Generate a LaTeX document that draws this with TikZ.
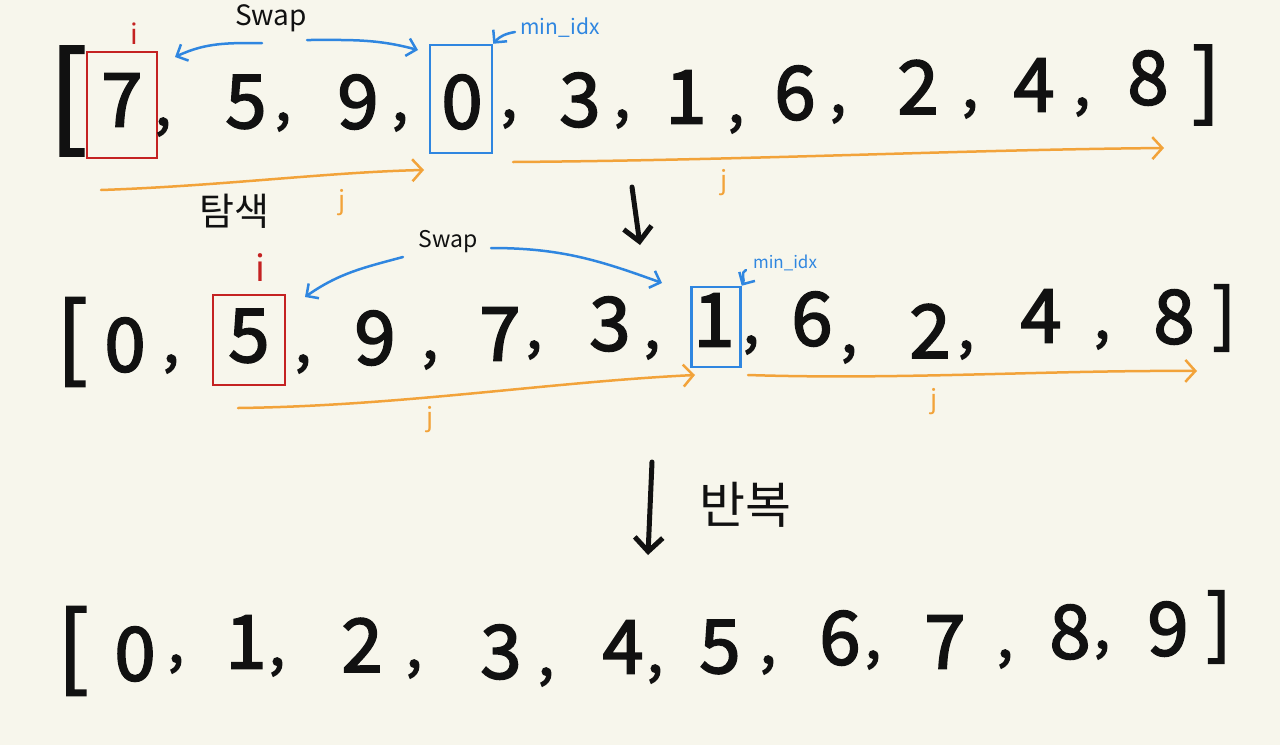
\documentclass[tikz,border=0pt]{standalone}
\usepackage{fontspec}
\newfontfamily\kr{Noto Sans CJK KR}
\newfontfamily\krh{Noto Sans CJK KR}[FakeBold=2.5]
\usetikzlibrary{arrows.meta}
\definecolor{bg}{HTML}{F7F6EC}
\definecolor{ink}{HTML}{111111}
\definecolor{ired}{HTML}{C42222}
\definecolor{iblue}{HTML}{2F86E0}
\definecolor{iorange}{HTML}{F2A33A}
\newcommand\myfs[1]{\fontsize{#1}{#1}\selectfont}
\tikzset{
  dig/.style={inner sep=0pt, text=ink, font=\krh\myfs{74}},
  cma/.style={inner sep=0pt, text=ink, font=\krh\myfs{58}},
  brk/.style={inner sep=0pt, text=ink, font=\krh\myfs{#1}},
  lbl/.style={inner sep=0pt, text=ink, font=\kr\myfs{#1}},
  bluelbl/.style={inner sep=0pt, text=iblue, font=\kr\myfs{#1}},
  redlbl/.style={inner sep=0pt, text=ired, font=\kr\myfs{#1}},
  orglbl/.style={inner sep=0pt, text=iorange, font=\kr\myfs{#1}},
  redbox/.style={draw=ired, line width=2.5pt, inner sep=0pt},
  bluebox/.style={draw=iblue, line width=2.5pt, inner sep=0pt},
  bluearr/.style={draw=iblue, line width=2.5pt, line cap=round, -{Straight Barb[length=9pt,width=18pt,line width=2.5pt]}},
  orgarr/.style={draw=iorange, line width=2.5pt, line cap=round, -{Straight Barb[length=10pt,width=22pt,line width=2.5pt]}},
  downarr/.style={draw=ink, line width=5pt, line cap=round, -{Straight Barb[length=14pt,width=28pt,line width=5pt]}}
}
\begin{document}
\begin{tikzpicture}[x=1pt,y=-1pt]
\fill[bg] (0,0) rectangle (1280,745);
\useasboundingbox (0,0) rectangle (1280,745);

% ---------- Row 1 ----------
\node[redbox, minimum width=70pt, minimum height=106pt] (rb1) at (122,105) {};
\node[bluebox, minimum width=62pt, minimum height=108pt] (bb1) at (461,99) {};
\node[brk=113] (r1L) at (68,101) {[};
\node[brk=83] (r1R) at (1206,85) {]};
\node[dig] (a1) at (122,100) {7};
\node[dig] (a2) at (246,102) {5};
\node[dig] (a3) at (358,102) {9};
\node[dig] (a4) at (462,102) {0};
\node[dig] (a5) at (580,100) {3};
\node[dig] (a6) at (686,97) {1};
\node[dig] (a7) at (795,93) {6};
\node[dig] (a8) at (918,87) {2};
\node[dig] (a9) at (1034,85) {4};
\node[dig] (a10) at (1148,78) {8};
\node[cma] (c1) at (163,127) {,};
\node[cma] (c2) at (283,122) {,};
\node[cma] (c3) at (400,122) {,};
\node[cma] (c4) at (509,119) {,};
\node[cma] (c5) at (622,119) {,};
\node[cma] (c6) at (736,124) {,};
\node[cma] (c7) at (838,114) {,};
\node[cma] (c8) at (970,109) {,};
\node[cma] (c9) at (1082,107) {,};

\node[redlbl=28] (i1) at (134,34) {i};
\node[lbl=28] (sw1) at (271,18) {Swap};
\node[bluelbl=21] (m1) at (560,28) {min\_idx};
\coordinate (sw1a) at (262,43);
\coordinate (sw1b) at (307,40);
\coordinate (sw1at) at (175,57);
\coordinate (sw1bt) at (418,50);
\draw[bluearr] (sw1a) to[out=180,in=25] (sw1at);
\draw[bluearr] (sw1b) to[out=0,in=165] (sw1bt);
\coordinate (m1a) at (515,32);
\draw[bluearr] (m1a) to[out=190,in=50] (bb1.north east);

\coordinate (o1a) at (101,190);
\coordinate (o1b) at (424,170);
\draw[orgarr] (o1a) .. controls (220,186) and (330,172) .. (o1b);
\coordinate (o2a) at (513,162);
\coordinate (o2b) at (1164,148);
\draw[orgarr] (o2a) .. controls (760,160) and (950,150) .. (o2b);
\node[orglbl=26] (j1) at (342,203) {j};
\node[orglbl=26] (j2) at (724,183) {j};
\node[lbl=38] (t1) at (234,211) {탐색};

\coordinate (d1a) at (632,187);
\coordinate (d1b) at (640,245);
\draw[downarr] (d1a) -- (d1b);

% ---------- Row 2 ----------
\node[redbox, minimum width=72pt, minimum height=90pt] (rb2) at (249,340) {};
\node[bluebox, minimum width=49pt, minimum height=80pt] (bb2) at (716,327) {};
\node[brk=92] (r2L) at (72,342) {[};
\node[brk=69] (r2R) at (1224,318) {]};
\node[dig] (b1) at (125,345) {0};
\node[dig] (b2) at (249,336) {5};
\node[dig] (b3) at (375,338) {9};
\node[dig] (b4) at (500,334) {7};
\node[dig] (b5) at (610,324) {3};
\node[dig] (b6) at (714,320) {1};
\node[dig] (b7) at (812,319) {6};
\node[dig] (b8) at (930,331) {2};
\node[dig] (b9) at (1041,316) {4};
\node[dig] (b10) at (1174,317) {8};
\node[cma] (e1) at (171,364) {,};
\node[cma] (e2) at (303,364) {,};
\node[cma] (e3) at (430,360) {,};
\node[cma] (e4) at (534,350) {,};
\node[cma] (e5) at (652,350) {,};
\node[cma] (e6) at (751,345) {,};
\node[cma] (e7) at (849,354) {,};
\node[cma] (e8) at (966,350) {,};
\node[cma] (e9) at (1102,340) {,};

\node[redlbl=36] (i2) at (260,268) {i};
\node[lbl=23] (sw2) at (448,242) {Swap};
\node[bluelbl=17] (m2) at (785,263) {min\_idx};
\coordinate (sw2a) at (403,257);
\coordinate (sw2b) at (491,248);
\coordinate (sw2at) at (305,297);
\coordinate (sw2bt) at (662,283);
\draw[bluearr] (sw2a) to[out=195,in=35] (sw2at);
\draw[bluearr] (sw2b) to[out=0,in=160] (sw2bt);
\coordinate (m2a) at (746,270);
\draw[bluearr] (m2a) to[out=200,in=60] (bb2.north east);

\coordinate (p1a) at (238,408);
\coordinate (p1b) at (695,375);
\draw[orgarr] (p1a) .. controls (400,406) and (550,382) .. (p1b);
\coordinate (p2a) at (748,375);
\coordinate (p2b) at (1197,371);
\draw[orgarr] (p2a) .. controls (900,380) and (1050,370) .. (p2b);
\node[orglbl=26] (j3) at (430,420) {j};
\node[orglbl=26] (j4) at (934,402) {j};

\coordinate (d2a) at (652,462);
\coordinate (d2b) at (648,555);
\draw[downarr] (d2a) -- (d2b);
\node[lbl=50] (rep) at (745,505) {반복};

% ---------- Row 3 ----------
\node[brk=92] (r3L) at (73,651) {[};
\node[brk=75] (r3R) at (1219,627) {]};
\node[dig] (f1) at (135,654) {0};
\node[dig] (f2) at (246,642) {1};
\node[dig] (f3) at (362,645) {2};
\node[dig] (f4) at (501,652) {3};
\node[dig] (f5) at (623,647) {4};
\node[dig] (f6) at (720,647) {5};
\node[dig] (f7) at (840,638) {6};
\node[dig] (f8) at (945,642) {7};
\node[dig] (f9) at (1070,632) {8};
\node[dig] (f10) at (1168,629) {9};
\node[cma] (g1) at (176,664) {,};
\node[cma] (g2) at (277,667) {,};
\node[cma] (g3) at (414,669) {,};
\node[cma] (g4) at (546,677) {,};
\node[cma] (g5) at (655,674) {,};
\node[cma] (g6) at (768,665) {,};
\node[cma] (g7) at (873,660) {,};
\node[cma] (g8) at (1005,659) {,};
\node[cma] (g9) at (1102,650) {,};
\end{tikzpicture}
\end{document}
